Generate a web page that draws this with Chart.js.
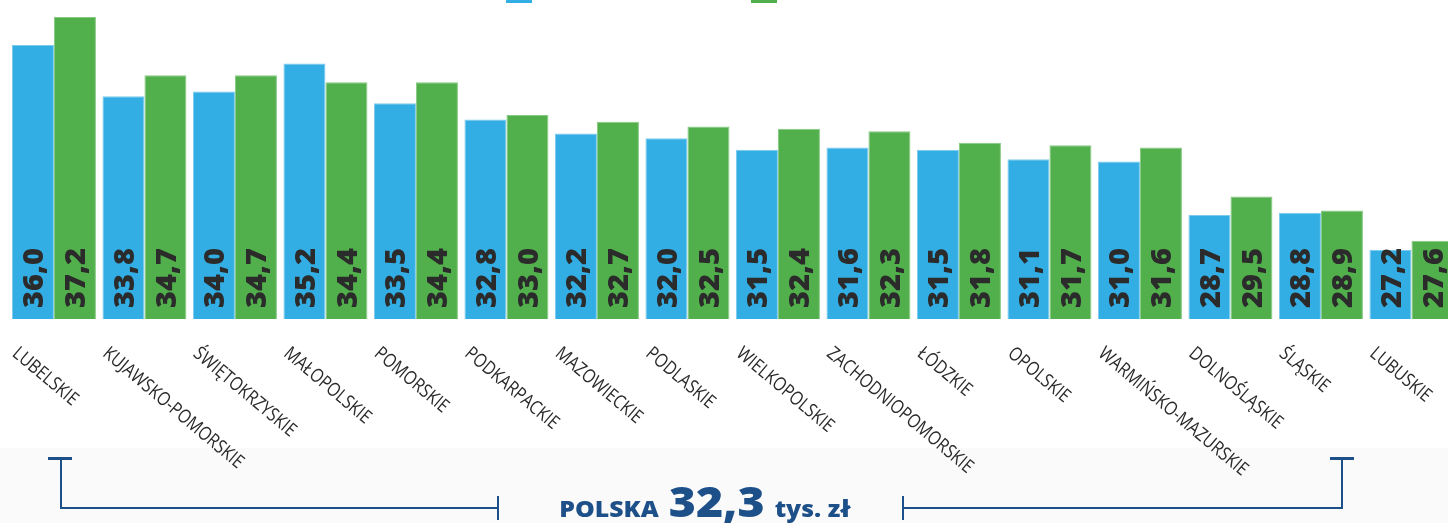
<!DOCTYPE html>
<html>
<head>
<meta charset="utf-8">
<script src="https://cdn.jsdelivr.net/npm/chart.js@4.4.1/dist/chart.umd.min.js"></script>
<style>
  html, body { margin: 0; padding: 0; overflow: hidden; background: #fff; width: 1448px; height: 523px; }
  canvas { display: block; }
</style>
</head>
<body>
<canvas id="wykres" width="1460" height="523"></canvas>
<script>
// dane
const wojewodztwa = ['LUBELSKIE', 'KUJAWSKO-POMORSKIE', 'ŚWIĘTOKRZYSKIE', 'MAŁOPOLSKIE', 'POMORSKIE',
  'PODKARPACKIE', 'MAZOWIECKIE', 'PODLASKIE', 'WIELKOPOLSKIE', 'ZACHODNIOPOMORSKIE', 'ŁÓDZKIE',
  'OPOLSKIE', 'WARMIŃSKO-MAZURSKIE', 'DOLNOŚLĄSKIE', 'ŚLĄSKIE', 'LUBUSKIE'];
const seriaNiebieska = [36.0, 33.8, 34.0, 35.2, 33.5, 32.8, 32.2, 32.0, 31.5, 31.6, 31.5, 31.1, 31.0, 28.7, 28.8, 27.2];
const seriaZielona = [37.2, 34.7, 34.7, 34.4, 34.4, 33.0, 32.7, 32.5, 32.4, 32.3, 31.8, 31.7, 31.6, 29.5, 28.9, 27.6];
const nazwySerii = ['2019', '2020'];
const polska = { etykieta: 'POLSKA', wartosc: '32,3', jednostka: 'tys. zł' };

const NIEBIESKI = '#33aee4';
const ZIELONY = '#52b04c';
const GRANAT = '#1d4f88';

const fmt = v => v.toFixed(1).replace('.', ',');

// tekst rozciągnięty/ściśnięty w poziomie (szerszy krój jak w oryginale)
function tekst(ctx, t, x, y, sx) {
  ctx.save();
  ctx.translate(x, y);
  ctx.scale(sx, 1);
  ctx.fillText(t, 0, 0);
  ctx.restore();
  return ctx.measureText(t).width * sx;
}

const dodatki = {
  id: 'dodatki',
  beforeDraw(chart) {
    const ctx = chart.ctx;
    ctx.save();
    ctx.fillStyle = '#fafafa';
    ctx.fillRect(0, 448, chart.width, 75);
    ctx.restore();
  },
  afterDatasetsDraw(chart) {
    const ctx = chart.ctx;
    const dol = chart.chartArea.bottom;
    ctx.save();
    ctx.font = '800 29px "Open Sans"';
    ctx.fillStyle = '#2b2b2b';
    ctx.textAlign = 'left';
    ctx.textBaseline = 'alphabetic';
    chart.data.datasets.forEach((ds, di) => {
      chart.getDatasetMeta(di).data.forEach((bar, i) => {
        ctx.save();
        ctx.translate(bar.x + 10.5, dol - 11);
        ctx.rotate(-Math.PI / 2);
        ctx.fillText(fmt(ds.data[i]), 0, 0);
        ctx.restore();
      });
    });
    ctx.restore();
  },
  afterDraw(chart) {
    const ctx = chart.ctx;
    const meta = chart.getDatasetMeta(0);

    // etykiety kategorii, obrócone w dół w prawo
    ctx.save();
    ctx.font = '19px "Open Sans"';
    ctx.fillStyle = '#2a2a2a';
    ctx.textAlign = 'left';
    ctx.textBaseline = 'alphabetic';
    wojewodztwa.forEach((w, i) => {
      const bar = meta.data[i];
      const lewy = bar.x - bar.width / 2;
      ctx.save();
      ctx.translate(lewy + 8, 345);
      ctx.rotate(40 * Math.PI / 180);
      ctx.scale(0.84, 1);
      ctx.fillText(w, 0, 13.5);
      ctx.restore();
    });
    ctx.restore();

    // legenda (ucięta u góry)
    ctx.save();
    ctx.fillStyle = NIEBIESKI;
    ctx.fillRect(506, -12, 26, 15);
    ctx.fillStyle = ZIELONY;
    ctx.fillRect(751, -12, 26, 15);
    ctx.font = '14px "Open Sans"';
    ctx.fillStyle = '#333';
    ctx.fillText(nazwySerii[0], 540, -2);
    ctx.fillText(nazwySerii[1], 785, -2);
    ctx.restore();

    // klamra
    ctx.save();
    ctx.strokeStyle = GRANAT;
    ctx.lineWidth = 3;
    ctx.beginPath();
    ctx.moveTo(48, 458.5); ctx.lineTo(72, 458.5);
    ctx.moveTo(1330, 458.5); ctx.lineTo(1354, 458.5);
    ctx.stroke();
    ctx.lineWidth = 2;
    ctx.beginPath();
    ctx.moveTo(61, 458); ctx.lineTo(61, 508); ctx.lineTo(498, 508);
    ctx.moveTo(498, 496); ctx.lineTo(498, 520);
    ctx.moveTo(903, 496); ctx.lineTo(903, 520);
    ctx.moveTo(903, 508); ctx.lineTo(1342, 508); ctx.lineTo(1342, 458);
    ctx.stroke();

    // POLSKA 32,3 tys. zł
    ctx.fillStyle = GRANAT;
    ctx.textBaseline = 'alphabetic';
    ctx.textAlign = 'left';
    const sx = 1.08;
    const fMaly = '800 23px "Open Sans"';
    const fDuzy = '800 43px "Open Sans"';
    ctx.font = fMaly;
    const w1 = ctx.measureText(polska.etykieta).width * sx;
    const w3 = ctx.measureText(polska.jednostka).width * sx;
    ctx.font = fDuzy;
    const w2 = ctx.measureText(polska.wartosc).width * sx;
    const odstep = 10;
    let px = 705 - (w1 + w2 + w3 + 2 * odstep) / 2;
    ctx.font = fMaly; px += tekst(ctx, polska.etykieta, px, 517, sx) + odstep;
    ctx.font = fDuzy; px += tekst(ctx, polska.wartosc, px, 517, sx) + odstep;
    ctx.font = fMaly; tekst(ctx, polska.jednostka, px, 517, sx);
    ctx.restore();
  }
};

new Chart(document.getElementById('wykres'), {
  type: 'bar',
  data: {
    labels: wojewodztwa,
    datasets: [
      { label: nazwySerii[0], data: seriaNiebieska, backgroundColor: NIEBIESKI, borderColor: '#7ccaee', borderWidth: 1,
        categoryPercentage: 0.928, barPercentage: 1 },
      { label: nazwySerii[1], data: seriaZielona, backgroundColor: ZIELONY, borderColor: '#86c982', borderWidth: 1,
        categoryPercentage: 0.928, barPercentage: 1 }
    ]
  },
  options: {
    responsive: false,
    animation: false,
    layout: { padding: { top: 0, left: 8.7, right: 3.3, bottom: 204 } },
    plugins: { legend: { display: false }, tooltip: { enabled: false } },
    scales: {
      x: { display: false },
      y: { display: false, min: 24.24, max: 37.93 }
    }
  },
  plugins: [dodatki]
});
</script>
</body>
</html>
